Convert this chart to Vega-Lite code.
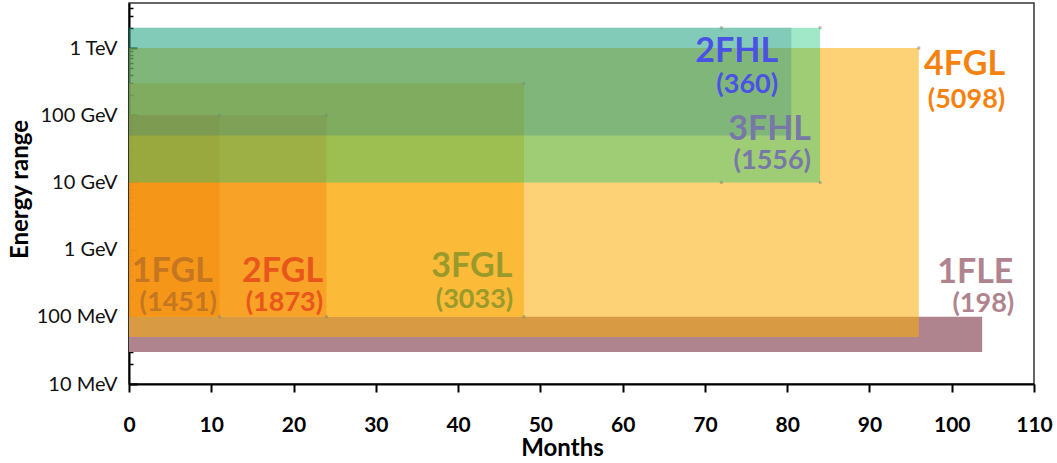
{
  "$schema": "https://vega.github.io/schema/vega-lite/v6.json",
  "width": 905,
  "height": 381,
  "autosize": {"type": "none"},
  "padding": {"left": 129, "top": 3, "right": 23, "bottom": 79},
  "config": {
    "font": "Lato",
    "view": {"stroke": "#333333", "strokeWidth": 1.5}
  },
  "datasets": {
    "catalogs": [
      {"name": "1FLE", "start": 0, "end": 103.7, "emin": 0.03, "emax": 0.1},
      {"name": "4FGL", "start": 0, "end": 96, "emin": 0.05, "emax": 1000},
      {"name": "3FGL", "start": 0, "end": 48, "emin": 0.1, "emax": 300},
      {"name": "2FGL", "start": 0, "end": 24, "emin": 0.1, "emax": 100},
      {"name": "1FGL", "start": 0, "end": 11, "emin": 0.1, "emax": 100},
      {"name": "3FHL", "start": 0, "end": 84, "emin": 10, "emax": 2000},
      {"name": "2FHL", "start": 0, "end": 80.5, "emin": 50, "emax": 2000}
    ],
    "handles": [
      {"month": 11, "energy": 100},
      {"month": 24, "energy": 100},
      {"month": 48, "energy": 300},
      {"month": 11, "energy": 0.1},
      {"month": 24, "energy": 0.1},
      {"month": 48, "energy": 0.1},
      {"month": 72, "energy": 2000},
      {"month": 84, "energy": 2000},
      {"month": 72, "energy": 10},
      {"month": 84, "energy": 10},
      {"month": 96, "energy": 1000}
    ],
    "labels": [
      {"name": "1FGL", "sources": 1451, "xName": 10.2, "eName": 0.33, "xCount": 10.7, "eCount": 0.124},
      {"name": "2FGL", "sources": 1873, "xName": 23.6, "eName": 0.33, "xCount": 23.6, "eCount": 0.124},
      {"name": "3FGL", "sources": 3033, "xName": 46.6, "eName": 0.391, "xCount": 46.7, "eCount": 0.133},
      {"name": "2FHL", "sources": 360, "xName": 78.9, "eName": 619, "xCount": 78.9, "eCount": 211},
      {"name": "3FHL", "sources": 1556, "xName": 82.9, "eName": 42.7, "xCount": 82.9, "eCount": 15.6},
      {"name": "4FGL", "sources": 5098, "xName": 106.5, "eName": 396, "xCount": 106.5, "eCount": 130},
      {"name": "1FLE", "sources": 198, "xName": 107.5, "eName": 0.318, "xCount": 107.6, "eCount": 0.116}
    ]
  },
  "layer": [
    {
      "data": {"name": "catalogs"},
      "mark": {"type": "rect"},
      "encoding": {
        "x": {
          "field": "start",
          "type": "quantitative",
          "scale": {"domain": [0, 110], "nice": false},
          "axis": {
            "values": [0, 10, 20, 30, 40, 50, 60, 70, 80, 90, 100, 110],
            "grid": false,
            "labelFlush": false,
            "labelFont": "Lato",
            "labelFontWeight": "bold",
            "labelFontSize": 21,
            "labelColor": "#000000",
            "labelPadding": 22,
            "tickSize": 8,
            "tickWidth": 2,
            "tickColor": "#000000",
            "domainColor": "#000000",
            "domainWidth": 2,
            "title": "Months",
            "titleFont": "Lato",
            "titleFontWeight": "bold",
            "titleFontSize": 24,
            "titleColor": "#000000",
            "titleX": 433,
            "titleY": 71,
            "titleAlign": "center",
            "titleBaseline": "alphabetic"
          }
        },
        "x2": {"field": "end"},
        "y": {
          "field": "emin",
          "type": "quantitative",
          "scale": {"type": "log", "domain": [0.01, 4680], "nice": false},
          "axis": {
            "orient": "left",
            "values": [0.01, 0.1, 1, 10, 100, 1000],
            "labelExpr": "datum.value >= 1000 ? format(datum.value / 1000, 'd') + ' TeV' : datum.value >= 1 ? format(datum.value, 'd') + ' GeV' : format(datum.value * 1000, 'd') + ' MeV'",
            "grid": false,
            "labelFlush": false,
            "labelFont": "Lato",
            "labelFontSize": 20,
            "labelColor": "#111111",
            "labelPadding": 20,
            "tickSize": -8,
            "tickWidth": 2,
            "tickColor": "#000000",
            "domainColor": "#000000",
            "domainWidth": 2,
            "title": "Energy range",
            "titleFont": "Lato",
            "titleFontWeight": "bold",
            "titleFontSize": 24,
            "titleColor": "#000000",
            "titleAngle": -90,
            "titleX": -109,
            "titleY": 186,
            "titleAlign": "center",
            "titleBaseline": "middle"
          }
        },
        "y2": {"field": "emax"},
        "color": {
          "field": "name",
          "type": "nominal",
          "scale": {
            "domain": ["1FLE", "4FGL", "3FGL", "2FGL", "1FGL", "3FHL", "2FHL"],
            "range": [
              "rgba(176,132,143,1)",
              "rgba(251,173,7,0.55)",
              "rgba(250,172,17,0.6)",
              "rgba(246,145,28,0.6)",
              "rgba(243,142,17,0.6)",
              "rgba(17,197,117,0.4)",
              "rgba(40,116,140,0.25)"
            ]
          },
          "legend": null
        }
      }
    },
    {
      "data": {"name": "handles"},
      "mark": {"type": "point", "filled": true, "size": 12, "color": "#7d8a6c", "opacity": 0.55},
      "encoding": {
        "x": {"field": "month", "type": "quantitative", "axis": null},
        "y": {
          "field": "energy",
          "type": "quantitative",
          "axis": {
            "orient": "left",
            "values": [0.02, 0.03, 0.04, 0.05, 0.06, 0.07, 0.08, 0.09, 0.2, 0.3, 0.4, 0.5, 0.6, 0.7, 0.8, 0.9, 2, 3, 4, 5, 6, 7, 8, 9, 20, 30, 40, 50, 60, 70, 80, 90, 200, 300, 400, 500, 600, 700, 800, 900, 2000, 3000, 4000],
            "labels": false,
            "domain": false,
            "grid": false,
            "tickSize": -4,
            "tickWidth": 1.5,
            "tickColor": "#000000",
            "title": null
          }
        }
      }
    },
    {
      "data": {"name": "labels"},
      "mark": {"type": "text", "align": "right", "baseline": "alphabetic", "font": "Lato", "fontWeight": "bold", "fontSize": 34},
      "encoding": {
        "x": {"field": "xName", "type": "quantitative", "axis": null},
        "y": {"field": "eName", "type": "quantitative", "axis": null},
        "text": {"field": "name"},
        "color": {
          "field": "name",
          "type": "nominal",
          "scale": {
            "domain": ["1FGL", "2FGL", "3FGL", "2FHL", "3FHL", "4FGL", "1FLE"],
            "range": ["#c47620", "#e8561c", "#9a9a2a", "#4a52e6", "#7878a8", "#f5820f", "#b0848f"]
          },
          "legend": null
        }
      }
    },
    {
      "data": {"name": "labels"},
      "transform": [{"calculate": "'(' + datum.sources + ')'", "as": "countText"}],
      "mark": {"type": "text", "align": "right", "baseline": "alphabetic", "font": "Lato", "fontWeight": "bold", "fontSize": 27},
      "encoding": {
        "x": {"field": "xCount", "type": "quantitative", "axis": null},
        "y": {"field": "eCount", "type": "quantitative", "axis": null},
        "text": {"field": "countText"},
        "color": {
          "field": "name",
          "type": "nominal",
          "scale": {
            "domain": ["1FGL", "2FGL", "3FGL", "2FHL", "3FHL", "4FGL", "1FLE"],
            "range": ["#c47620", "#e8561c", "#9a9a2a", "#4a52e6", "#7878a8", "#f5820f", "#b0848f"]
          },
          "legend": null
        }
      }
    }
  ],
  "resolve": {
    "scale": {"color": "independent"},
    "axis": {"x": "independent", "y": "independent"}
  }
}
